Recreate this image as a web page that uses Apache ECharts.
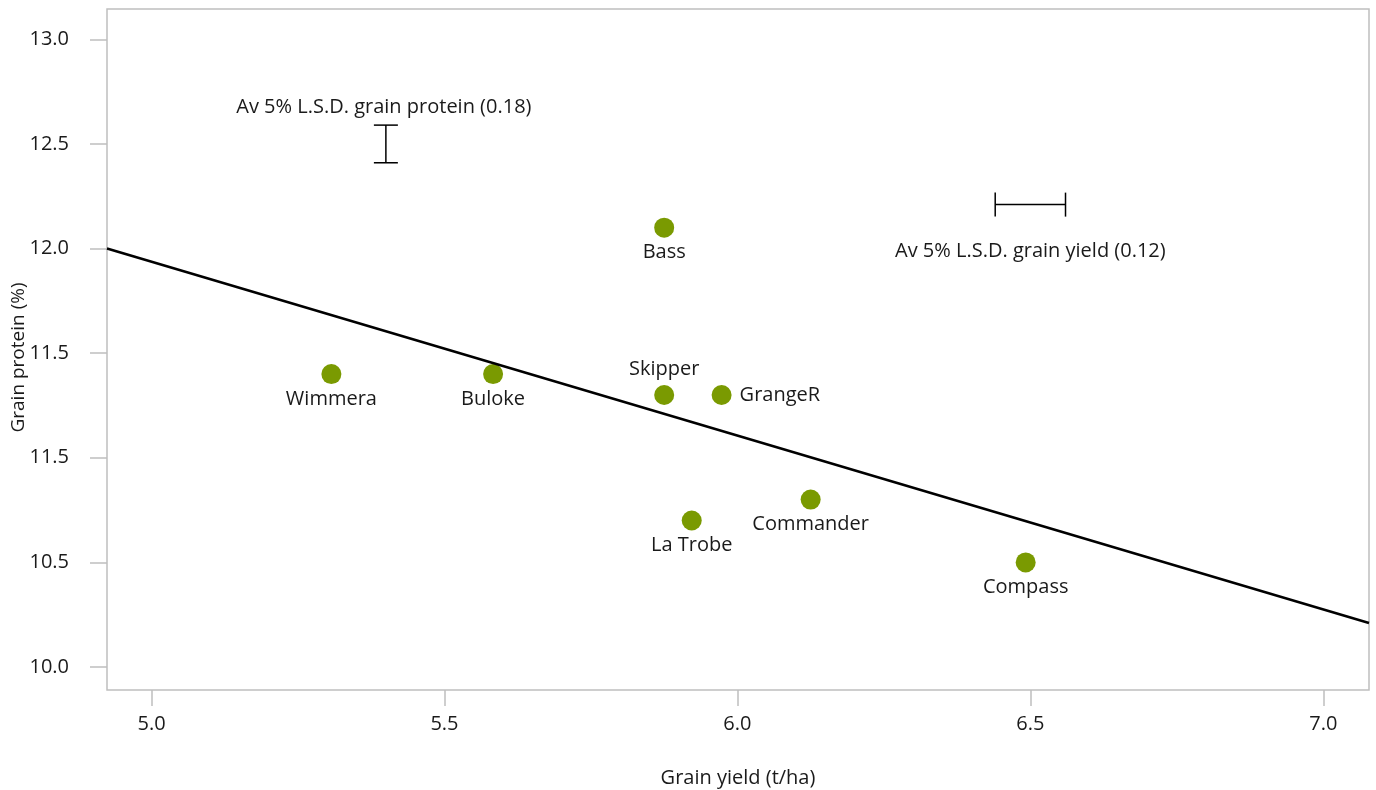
<!DOCTYPE html>
<html>
<head>
<meta charset="utf-8">
<script src="https://cdn.jsdelivr.net/npm/echarts@6/dist/echarts.min.js"></script>
<style>
html,body{margin:0;padding:0;background:#fff;}
#chart{width:1376px;height:790px;}
</style>
</head>
<body>
<div id="chart"></div>
<script>
// ---- data ----
const varieties = ['Bass', 'Wimmera', 'Buloke', 'Skipper', 'GrangeR', 'Commander', 'La Trobe', 'Compass'];
const yieldVals = [5.875, 5.307, 5.583, 5.875, 5.973, 6.125, 5.922, 6.492];
const proteinVals = [12.10, 11.40, 11.40, 11.30, 11.30, 10.80, 10.70, 10.50];
const trendX = [4.924, 7.078];
const trendY = [12.00, 10.21];
const xTickValues = [5.0, 5.5, 6.0, 6.5, 7.0];
const xTickLabels = ['5.0', '5.5', '6.0', '6.5', '7.0'];
const yTickValues = [10.0, 10.5, 11.0, 11.5, 12.0, 12.5, 13.0];
const yTickLabels = ['10.0', '10.5', '11.5', '11.5', '12.0', '12.5', '13.0'];
const lsdProtein = [5.40, 12.41, 12.59];   // x, low, high
const lsdYield = [12.21, 6.44, 6.56];      // y, left, right
const lsdTexts = ['Av 5% L.S.D. grain protein (0.18)', 'Av 5% L.S.D. grain yield (0.12)'];

// ---- styling ----
const FONT = '"Open Sans", "Noto Sans", sans-serif';
const FS = 20;
const TXT = '#1a1a1a';
const AXC = '#bfbfbf';
const labelPlace = {
  'Skipper': { position: 'top', distance: 6 },
  'GrangeR': { position: 'right', distance: 8 }
};

function pick(values, labels) {
  return function (v) {
    for (let i = 0; i < values.length; i++) {
      if (Math.abs(values[i] - v) < 1e-6) return labels[i];
    }
    return '';
  };
}

const scatterData = varieties.map((n, i) => {
  const p = labelPlace[n] || { position: 'bottom', distance: 5 };
  return { name: n, value: [yieldVals[i], proteinVals[i]], label: { position: p.position, distance: p.distance } };
});

const chart = echarts.init(document.getElementById('chart'), null, { renderer: 'canvas' });
chart.setOption({
  animation: false,
  backgroundColor: '#fff',
  grid: { left: 107, right: 7, top: 9, bottom: 100, show: true, borderColor: AXC, borderWidth: 1.5, containLabel: false, outerBoundsMode: 'none' },
  xAxis: {
    type: 'value', min: 4.924, max: 7.078,
    name: 'Grain yield (t/ha)', nameLocation: 'middle', nameGap: 78, nameMoveOverlap: false,
    nameTextStyle: { fontFamily: FONT, fontSize: FS, color: TXT },
    axisLine: { show: false },
    splitLine: { show: false },
    axisTick: { show: true, customValues: xTickValues, length: 16, lineStyle: { color: AXC, width: 1.5 } },
    axisLabel: { customValues: xTickValues, formatter: pick(xTickValues, xTickLabels), margin: 24, fontFamily: FONT, fontSize: FS, color: TXT }
  },
  yAxis: {
    type: 'value', min: 9.89, max: 13.145,
    name: 'Grain protein (%)', nameLocation: 'middle', nameGap: 79, nameMoveOverlap: false,
    nameTextStyle: { fontFamily: FONT, fontSize: 19, color: TXT, padding: [0, 16, 0, 0] },
    axisLine: { show: false },
    splitLine: { show: false },
    axisTick: { show: true, customValues: yTickValues, length: 17, lineStyle: { color: AXC, width: 1.5 } },
    axisLabel: { customValues: yTickValues, formatter: pick(yTickValues, yTickLabels), margin: 38, fontFamily: FONT, fontSize: FS, color: TXT }
  },
  series: [
    {
      type: 'scatter',
      data: scatterData,
      symbolSize: 20,
      itemStyle: { color: '#7a9a01', opacity: 1 },
      label: { show: true, formatter: '{b}', fontFamily: FONT, fontSize: FS, color: TXT },
      z: 3
    },
    {
      type: 'line',
      data: [[trendX[0], trendY[0]], [trendX[1], trendY[1]]],
      symbol: 'none',
      lineStyle: { color: '#000', width: 2.5 },
      z: 4
    },
    {
      type: 'custom',
      data: [lsdProtein],
      z: 5,
      renderItem: function (params, api) {
        const lo = api.coord([api.value(0), api.value(1)]);
        const hi = api.coord([api.value(0), api.value(2)]);
        const s = { stroke: '#000', lineWidth: 1.5 };
        return {
          type: 'group',
          children: [
            { type: 'line', shape: { x1: lo[0], y1: lo[1], x2: hi[0], y2: hi[1] }, style: s },
            { type: 'line', shape: { x1: lo[0] - 12, y1: lo[1], x2: lo[0] + 12, y2: lo[1] }, style: s },
            { type: 'line', shape: { x1: hi[0] - 12, y1: hi[1], x2: hi[0] + 12, y2: hi[1] }, style: s },
            { type: 'text', style: { text: lsdTexts[0], x: hi[0] - 2, y: hi[1] - 18, align: 'center', verticalAlign: 'middle', fontFamily: FONT, fontSize: FS, fill: TXT } }
          ]
        };
      }
    },
    {
      type: 'custom',
      data: [lsdYield],
      z: 5,
      renderItem: function (params, api) {
        const l = api.coord([api.value(1), api.value(0)]);
        const r = api.coord([api.value(2), api.value(0)]);
        const s = { stroke: '#000', lineWidth: 1.5 };
        const cx = (l[0] + r[0]) / 2;
        return {
          type: 'group',
          children: [
            { type: 'line', shape: { x1: l[0], y1: l[1], x2: r[0], y2: r[1] }, style: s },
            { type: 'line', shape: { x1: l[0], y1: l[1] - 12, x2: l[0], y2: l[1] + 12 }, style: s },
            { type: 'line', shape: { x1: r[0], y1: r[1] - 12, x2: r[0], y2: r[1] + 12 }, style: s },
            { type: 'text', style: { text: lsdTexts[1], x: cx, y: l[1] + 47, align: 'center', verticalAlign: 'middle', fontFamily: FONT, fontSize: FS, fill: TXT } }
          ]
        };
      }
    }
  ]
});
</script>
</body>
</html>
